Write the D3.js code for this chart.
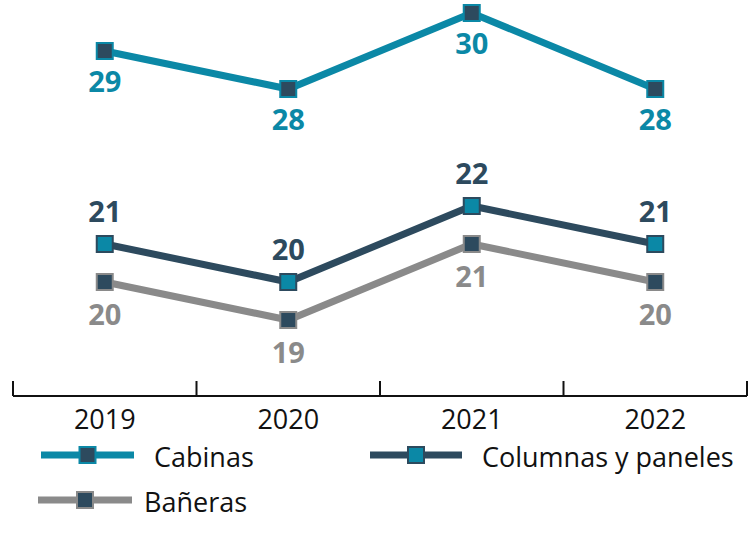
<!DOCTYPE html>
<html><head><meta charset="utf-8">
<script src="https://cdn.jsdelivr.net/npm/d3@7"></script>
<style>body{margin:0;background:#fff}svg{display:block}</style>
</head><body><svg id="c" width="750" height="546"></svg>
<script>
const years = ["2019","2020","2021","2022"];
const cabinas = [29,28,30,28];
const columnas = [21,20,22,21];
const baneras = [20,19,21,20];
const seriesNames = ["Cabinas","Columnas y paneles","Bañeras"];

const teal = "#0b88a6", dark = "#2d4a5e", gray = "#8a8a8a";
const svg = d3.select("#c");
const font = "'Open Sans', sans-serif";

const x = d3.scaleBand().domain(years).range([13,747]);
const xc = d => x(d) + x.bandwidth()/2;
const y = d3.scaleLinear().domain([19,22]).range([320,206]);
const y2 = d3.scaleLinear().domain([28,30]).range([89,13]);

// axis
const axis = d3.axisBottom(x).tickSize(0).tickPadding(0);
const gx = svg.append("g").attr("transform","translate(0,396)").call(axis);
gx.select(".domain").attr("stroke","#111").attr("stroke-width",2).attr("d","M13,0H747");
gx.selectAll(".tick text").attr("font-family",font).attr("font-size",27).attr("fill","#111")
  .attr("y",23).attr("dy","0.36em");
const bounds = years.map(d=>x(d)).concat([747]);
gx.selectAll(".bound").data(bounds).enter().append("line")
  .attr("x1",d=>d).attr("x2",d=>d).attr("y1",-15).attr("y2",0)
  .attr("stroke","#111").attr("stroke-width",2);

const series = [
  {name:seriesNames[0], vals:cabinas, ys:y2, line:teal, fill:dark, label:teal, off:31},
  {name:seriesNames[1], vals:columnas, ys:y, line:dark, fill:teal, label:dark, off:-32},
  {name:seriesNames[2], vals:baneras, ys:y, line:gray, fill:dark, label:gray, off:33}
];
const ms = 16;
[series[2],series[1],series[0]].forEach(s=>{
  const pts = s.vals.map((v,i)=>({x:xc(years[i]), y:s.ys(v), v}));
  svg.append("path").datum(pts)
    .attr("d", d3.line().x(d=>d.x).y(d=>d.y))
    .attr("fill","none").attr("stroke",s.line).attr("stroke-width",7);
  svg.selectAll(null).data(pts).enter().append("rect")
    .attr("x",d=>d.x-ms/2).attr("y",d=>d.y-ms/2).attr("width",ms).attr("height",ms)
    .attr("fill",s.fill).attr("stroke",s.line).attr("stroke-width",2);
  svg.selectAll(null).data(pts).enter().append("text")
    .attr("x",d=>d.x).attr("y",d=>d.y+s.off)
    .attr("dy","0.36em")
    .attr("text-anchor","middle").attr("font-family",font).attr("font-weight",700)
    .attr("font-size",29).attr("fill",s.label).text(d=>d.v);
});

// legend
const leg = [
  {s:series[0], x1:41, x2:134, y:455, tx:154},
  {s:series[1], x1:370, x2:462, y:455, tx:482},
  {s:series[2], x1:38, x2:132, y:500, tx:144}
];
leg.forEach(l=>{
  const g = svg.append("g");
  g.append("line").attr("x1",l.x1).attr("x2",l.x2).attr("y1",l.y).attr("y2",l.y)
    .attr("stroke",l.s.line).attr("stroke-width",7);
  const mx=(l.x1+l.x2)/2;
  g.append("rect").attr("x",mx-ms/2).attr("y",l.y-ms/2).attr("width",ms).attr("height",ms)
    .attr("fill",l.s.fill).attr("stroke",l.s.line).attr("stroke-width",2);
  g.append("text").attr("x",l.tx).attr("y",l.y+2).attr("dy","0.36em")
    .attr("font-family",font).attr("font-size",27).attr("fill","#111").text(l.s.name);
});
</script></body></html>
